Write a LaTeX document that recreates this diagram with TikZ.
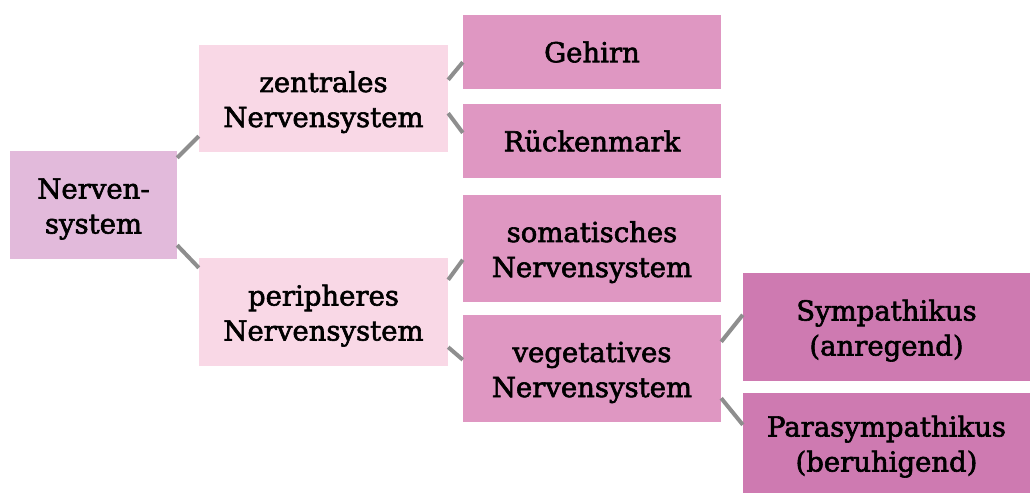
\documentclass[tikz,border=0pt]{standalone}
\usepackage{fontspec}
\setmainfont{DejaVu Serif}
\newfontfamily\boxfont{DejaVu Serif}
\usetikzlibrary{calc}
\definecolor{cRoot}{HTML}{E2BADB}
\definecolor{cOne}{HTML}{F9D8E6}
\definecolor{cTwo}{HTML}{DF97C2}
\definecolor{cThree}{HTML}{CE7AB1}
\definecolor{cLine}{HTML}{8E8E8E}
\newcommand{\heavytext}[1]{\special{pdf:literal 2 Tr 0.6 w}#1\special{pdf:literal 0 Tr}}
\newcommand{\twolines}[2]{\raisebox{-4pt}[\height][\depth]{\begin{tabular}{@{}c@{}}\heavytext{#1}\\\heavytext{#2}\end{tabular}}}
\tikzset{
  box/.style={rectangle, inner sep=0pt, align=center, font=\fontsize{27.5}{35}\boxfont, text=black},
  link/.style={draw=cLine, line width=4pt},
}
\begin{document}
\begin{tikzpicture}[x=1pt,y=-1pt]
\useasboundingbox (0,0) rectangle (1031,494);
\node[box, fill=cRoot, minimum width=167pt, minimum height=108pt] (nerv) at (93.5,205) {\twolines{Nerven-}{system}};
\node[box, fill=cOne, minimum width=249pt, minimum height=107pt] (zns) at (323.5,98.5) {\twolines{zentrales}{Nervensystem}};
\node[box, fill=cOne, minimum width=249pt, minimum height=108pt] (pns) at (323.5,312) {\twolines{peripheres}{Nervensystem}};
\node[box, fill=cTwo, minimum width=258pt, minimum height=74pt] (geh) at (592,52) {\heavytext{Gehirn}};
\node[box, fill=cTwo, minimum width=258pt, minimum height=74pt] (rm) at (592,141) {\heavytext{Rückenmark}};
\node[box, fill=cTwo, minimum width=258pt, minimum height=107pt] (som) at (592,248.5) {\twolines{somatisches}{Nervensystem}};
\node[box, fill=cTwo, minimum width=258pt, minimum height=107pt] (veg) at (592,368.5) {\twolines{vegetatives}{Nervensystem}};
\node[box, fill=cThree, minimum width=287pt, minimum height=108pt] (sym) at (886.5,327) {\twolines{Sympathikus}{(anregend)}};
\node[box, fill=cThree, minimum width=287pt, minimum height=100pt] (para) at (886.5,443) {\twolines{Parasympathikus}{(beruhigend)}};
\draw[link] ($(nerv.north east)+(0,7)$) -- ($(zns.south west)+(0,-16)$);
\draw[link] ($(nerv.south east)+(0,-14)$) -- ($(pns.north west)+(0,10)$);
\draw[link] ($(zns.north east)+(0,35)$) -- ($(geh.south west)+(0,-27)$);
\draw[link] ($(zns.south east)+(0,-39)$) -- ($(rm.north west)+(0,29)$);
\draw[link] ($(pns.north east)+(0,22)$) -- ($(som.north west)+(0,65)$);
\draw[link] ($(pns.south east)+(0,-19)$) -- ($(veg.north west)+(0,45)$);
\draw[link] ($(veg.north east)+(0,27)$) -- ($(sym.north west)+(0,42)$);
\draw[link] ($(veg.south east)+(0,-24)$) -- ($(para.north west)+(0,32)$);
\end{tikzpicture}
\end{document}
